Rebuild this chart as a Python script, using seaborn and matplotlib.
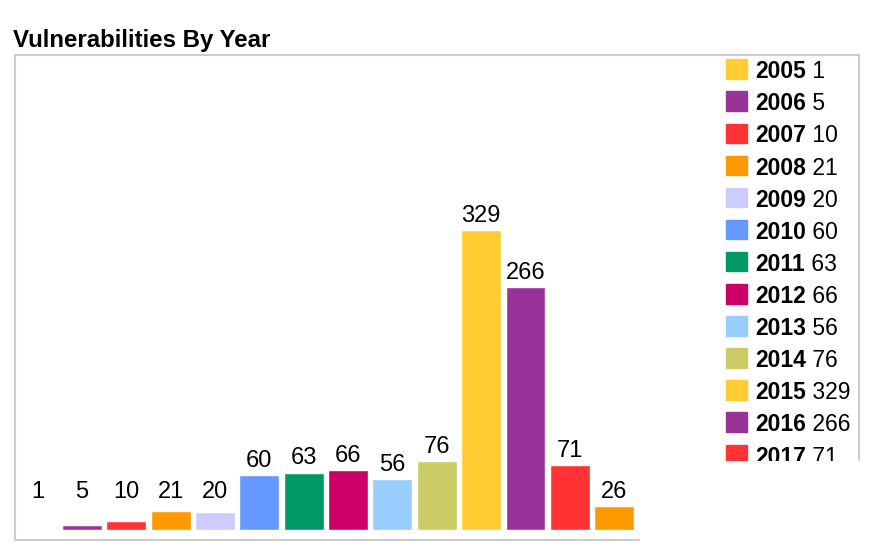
import matplotlib
matplotlib.use("Agg")
import matplotlib.pyplot as plt
from matplotlib.lines import Line2D
from matplotlib.patches import Rectangle
import seaborn as sns

# data
years = ['2005', '2006', '2007', '2008', '2009', '2010', '2011',
         '2012', '2013', '2014', '2015', '2016', '2017', '2018']
counts = [1, 5, 10, 21, 20, 60, 63, 66, 56, 76, 329, 266, 71, 26]
bar_colors = ['#FFCC33', '#993399', '#FF3333', '#FF9900', '#CCCCFF', '#6699FF', '#009966',
              '#CC0066', '#99CCFF', '#CCCC66', '#FFCC33', '#993399', '#FF3333', '#FF9900']

sns.set_style("white")
plt.rcParams['font.family'] = ['Liberation Sans', 'DejaVu Sans']
plt.rcParams['text.color'] = 'black'

W, H = 874, 556
fig = plt.figure(figsize=(W / 100, H / 100), dpi=100)

def fx(px):
    return px / W

def fy(py):
    return 1 - py / H

# main bar area (pixel box 15..639 x 55..540)
ax = fig.add_axes([fx(15), fy(540), fx(639) - fx(15), fy(55) - fy(540)])
sns.barplot(x=years, y=counts, hue=years, palette=bar_colors, legend=False,
            width=0.9, saturation=1, ax=ax)
ax.set_xlim(-0.51, 13.56)
ax.set_ylim(-11, 521)
ax.axis('off')

# value labels, small bars get lifted to a common minimum height
label_floor = 26
for i, v in enumerate(counts):
    ax.annotate(str(v), (i, max(v, label_floor)), xytext=(0, 5.8), textcoords='offset points',
                ha='center', va='baseline', fontsize=17, color='black')

# legend area, clipped at the bottom like the original
lax = fig.add_axes([fx(640), fy(461), fx(857) - fx(640), fy(57) - fy(461)])
lax.set_xlim(640, 857)
lax.set_ylim(461, 57)
lax.axis('off')
for i, (yr, v, c) in enumerate(zip(years, counts, bar_colors)):
    top = 59.3 + 32.1 * i
    lax.add_patch(Rectangle((726, top), 21, 19.5, color=c, clip_on=True))
    t = lax.text(755, top + 19, yr, fontsize=16.5, fontweight='bold', va='baseline',
                 color='black', clip_on=True)
    lax.annotate(' ' + str(v), xy=(1, 0), xycoords=t, va='bottom', ha='left',
                 fontsize=16.5, color='black', annotation_clip=False, clip_on=True)

# outer frame
frame_color = '#CCCCCC'
for (x0, y0, x1, y1) in [(15, 55, 15, 540), (15, 55, 859, 55), (859, 55, 859, 460), (15, 540, 639, 540)]:
    fig.add_artist(Line2D([fx(x0), fx(x1)], [fy(y0), fy(y1)], color=frame_color, lw=1.5,
                          transform=fig.transFigure))

fig.text(fx(13), fy(47), 'Vulnerabilities By Year', fontsize=17.3, fontweight='bold',
         va='baseline', color='black')

fig.savefig('out.png', dpi=100)
